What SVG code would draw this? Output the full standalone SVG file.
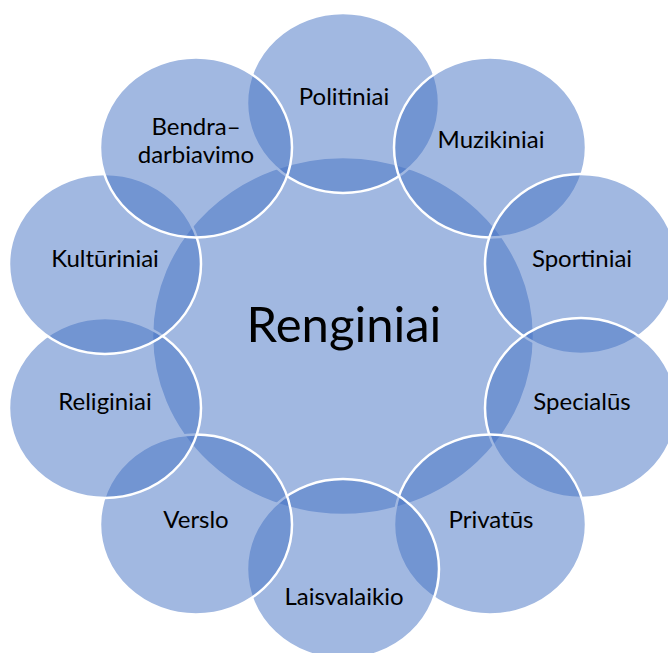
<svg xmlns="http://www.w3.org/2000/svg" width="668" height="653" viewBox="0 0 668 653">
<style>
.c{fill:#4472C4;fill-opacity:0.5;stroke:#FFFFFF;stroke-width:2.5}
.t{font-family:Lato,"Liberation Sans",sans-serif;font-size:24px;fill:#000;text-anchor:middle}
.big{font-size:49px}
</style>
<rect width="668" height="653" fill="#FFFFFF"/>
<g id="center"><ellipse class="c" cx="343" cy="336" rx="191" ry="179"/><text class="t big" x="344" y="342">Renginiai</text></g>
<g id="politiniai"><ellipse class="c" cx="343" cy="103" rx="96" ry="90"/><text class="t" x="344" y="105">Politiniai</text></g>
<g id="muzikiniai"><ellipse class="c" cx="490" cy="147.5" rx="96" ry="90"/><text class="t" x="491" y="148">Muzikiniai</text></g>
<g id="sportiniai"><ellipse class="c" cx="581" cy="264" rx="96" ry="90"/><text class="t" x="582" y="267">Sportiniai</text></g>
<g id="specialus"><ellipse class="c" cx="581" cy="408" rx="96" ry="90"/><text class="t" x="582" y="410">Specialūs</text></g>
<g id="privatus"><ellipse class="c" cx="490" cy="524.5" rx="96" ry="90"/><text class="t" x="491" y="528">Privatūs</text></g>
<g id="laisvalaikio"><ellipse class="c" cx="343" cy="569" rx="96" ry="90"/><text class="t" x="344" y="605">Laisvalaikio</text></g>
<g id="verslo"><ellipse class="c" cx="196" cy="524.5" rx="96" ry="90"/><text class="t" x="196" y="528">Verslo</text></g>
<g id="religiniai"><ellipse class="c" cx="105" cy="408" rx="96" ry="90"/><text class="t" x="105" y="410">Religiniai</text></g>
<g id="kulturiniai"><ellipse class="c" cx="105" cy="264" rx="96" ry="90"/><text class="t" x="105" y="267">Kultūriniai</text></g>
<g id="bendradarbiavimo"><ellipse class="c" cx="196" cy="147.5" rx="96" ry="90"/><text class="t" x="196" y="135">Bendra–</text><text class="t" x="196" y="163">darbiavimo</text></g>
<g id="connectors"/>
</svg>
